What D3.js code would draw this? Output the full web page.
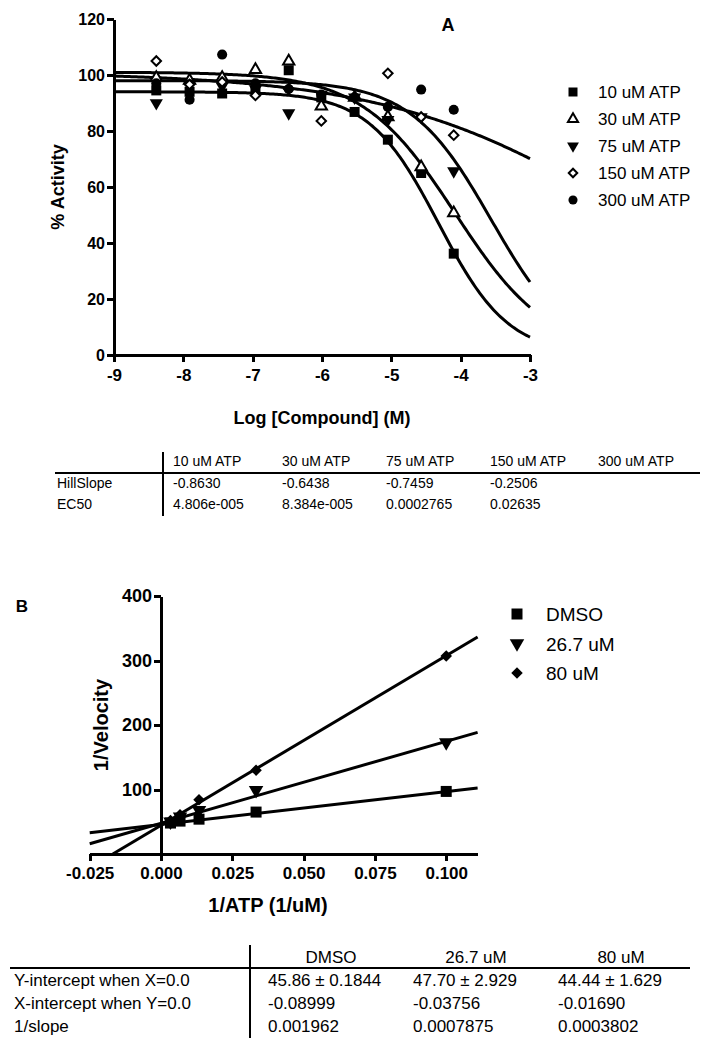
<!DOCTYPE html>
<html>
<head>
<meta charset="utf-8">
<title>ATP competition</title>
<script src="https://d3js.org/d3.v7.min.js"></script>
<style>
body { margin: 0; background: #fff; }
svg { display: block; font-family: "Liberation Sans", Arial, sans-serif; }
.axis path, .axis line { stroke: #000; stroke-width: 3; shape-rendering: crispEdges; }
.axis text { font-weight: bold; fill: #000; }
.fit { fill: none; stroke: #000; stroke-width: 3; }
.tbl { font-family: "Liberation Sans Narrow", "Liberation Sans", Arial, sans-serif; }
</style>
</head>
<body>
<svg id="fig" width="717" height="1050"></svg>
<script>
// ---------- panel A data ----------
var logConc = [-8.39, -7.91, -7.44, -6.96, -6.48, -6.01, -5.53, -5.05, -4.57, -4.10];
var seriesA = ["10 uM ATP", "30 uM ATP", "75 uM ATP", "150 uM ATP", "300 uM ATP"];
var atp10  = [94.5, 94, 93.4, 95, 101.7, 92, 86.8, 76.9, 65, 36.2];
var atp30  = [99, 98, 99, 101.9, 104.9, 88.8, 92, 85, 67.1, 50.7];
var atp75  = [90, 97, 96, 95, 86.4, 93, 92, 84, 85, 65.7];
var atp150 = [105, 96.6, 97.5, 92.7, 95, 83.6, 92, 100.6, 85, 78.5];
var atp300 = [97, 91.2, 107.3, 97, 95, 93, 92, 88.6, 94.8, 87.6];
// fitted parameters (table), plus top / bottom
var hillSlope = [-0.8630, -0.6438, -0.7459, -0.2506];
var ec50 = [4.806e-5, 8.384e-5, 0.0002765, 0.02635];
var hillText = ["-0.8630", "-0.6438", "-0.7459", "-0.2506", ""];
var ec50Text = ["4.806e-005", "8.384e-005", "0.0002765", "0.02635", ""];
var fitTop = [94, 101, 98, 101];
var fitBottom = [0, 0, -1.5, 0];
var xTicksA = [-9, -8, -7, -6, -5, -4, -3];
var yTicksA = [0, 20, 40, 60, 80, 100, 120];

// ---------- panel B data ----------
var invATP = [0.00333, 0.00667, 0.01333, 0.03333, 0.1];
var seriesB = ["DMSO", "26.7 uM", "80 uM"];
var dmso = [48, 51, 54, 65, 97];
var inh26 = [50, 58, 68, 99, 173];
var inh80 = [52, 61, 84, 130, 307];
var yIntercept = [45.86, 47.70, 44.44];
var oneOverSlope = [0.001962, 0.0007875, 0.0003802];
var yIntText = ["45.86 \u00b1 0.1844", "47.70 \u00b1 2.929", "44.44 \u00b1 1.629"];
var xIntText = ["-0.08999", "-0.03756", "-0.01690"];
var slopeText = ["0.001962", "0.0007875", "0.0003802"];
var xTicksB = [-0.025, 0, 0.025, 0.05, 0.075, 0.1];
var yTicksB = [100, 200, 300, 400];

var svg = d3.select("#fig");

// marker drawing helper
function marker(g, kind, x, y, s) {
  var p;
  if (kind == "square") p = g.append("path").attr("d", d3.symbol(d3.symbolSquare, s * s));
  if (kind == "tri") p = g.append("path").attr("d", d3.symbol(d3.symbolTriangle, s * s * 0.55)).attr("fill", "#fff").attr("stroke", "#000").attr("stroke-width", 2);
  if (kind == "down") p = g.append("path").attr("d", d3.symbol(d3.symbolTriangle, s * s * 0.75));
  if (kind == "odiam") p = g.append("path").attr("d", d3.symbol(d3.symbolSquare, s * s * 0.45)).attr("fill", "#fff").attr("stroke", "#000").attr("stroke-width", 2);
  if (kind == "diam") p = g.append("path").attr("d", d3.symbol(d3.symbolSquare, s * s * 0.55));
  if (kind == "circle") p = g.append("path").attr("d", d3.symbol(d3.symbolCircle, s * s * 0.8));
  var rot = kind == "down" ? 180 : (kind == "odiam" || kind == "diam") ? 45 : 0;
  p.attr("transform", "translate(" + x + "," + y + ") rotate(" + rot + ")");
  if (!p.attr("fill")) p.attr("fill", "#000");
}

/******** PANEL A ********/
var xA = d3.scaleLinear().domain([-9, -3]).range([114, 530]);
var yA = d3.scaleLinear().domain([0, 120]).range([355, 19]);
var gA = svg.append("g");

gA.append("g").attr("class", "axis").attr("transform", "translate(0,355)")
  .call(d3.axisBottom(xA).tickValues(xTicksA).tickFormat(function(d) { return String(d); })
    .tickSize(7).tickPadding(7).tickSizeOuter(0))
  .selectAll("text").style("font-size", "17px");
gA.append("g").attr("class", "axis").attr("transform", "translate(114,0)")
  .call(d3.axisLeft(yA).tickValues(yTicksA).tickSize(7).tickPadding(2).tickSizeOuter(0))
  .selectAll("text").style("font-size", "16px");

// fitted curves
var curveX = d3.range(0, 241).map(function(i) { return xA.domain()[0] + i * 6 / 240; });
hillSlope.forEach(function(h, k) {
  var le = Math.log10(ec50[k]);
  var line = d3.line()
    .x(function(d) { return xA(d); })
    .y(function(d) { return yA(fitBottom[k] + (fitTop[k] - fitBottom[k]) / (1 + Math.pow(10, (le - d) * h))); });
  gA.append("path").attr("class", "fit").attr("d", line(curveX));
});

var dataA = [atp10, atp30, atp75, atp150, atp300];
var kindsA = ["square", "tri", "down", "odiam", "circle"];
dataA.forEach(function(vals, k) {
  vals.forEach(function(v, i) { marker(gA, kindsA[k], xA(logConc[i]), yA(v), 10); });
});

gA.append("text").attr("x", 448).attr("y", 31).attr("text-anchor", "middle")
  .attr("font-weight", "bold").attr("font-size", 18).text("A");
gA.append("text").attr("transform", "translate(64,187) rotate(-90)").attr("text-anchor", "middle")
  .attr("font-weight", "bold").attr("font-size", 18).text("% Activity");
gA.append("text").attr("x", 322).attr("y", 424).attr("text-anchor", "middle")
  .attr("font-weight", "bold").attr("font-size", 18).text("Log [Compound] (M)");

seriesA.forEach(function(s, k) {
  var y = 92 + k * 27;
  marker(gA, kindsA[k], 573, y, 9);
  gA.append("text").attr("x", 598).attr("y", y + 6).attr("font-size", 17).text(s);
});

// table A
var tA = svg.append("g").attr("class", "tbl").attr("font-size", 14);
var colA = [173, 282, 386, 490, 598];
tA.append("line").attr("x1", 55).attr("x2", 700).attr("y1", 473).attr("y2", 473).attr("stroke", "#000").attr("stroke-width", 2);
tA.append("line").attr("x1", 163).attr("x2", 163).attr("y1", 452).attr("y2", 516).attr("stroke", "#000").attr("stroke-width", 2);
seriesA.forEach(function(s, k) {
  tA.append("text").attr("x", colA[k]).attr("y", 466).text(s);
  tA.append("text").attr("x", colA[k]).attr("y", 488).text(hillText[k]);
  tA.append("text").attr("x", colA[k]).attr("y", 509).text(ec50Text[k]);
});
tA.append("text").attr("x", 57).attr("y", 488).text("HillSlope");
tA.append("text").attr("x", 57).attr("y", 509).text("EC50");

/******** PANEL B ********/
var xB = d3.scaleLinear().domain([-0.025, 0.111]).range([89.7, 477.6]);
var yB = d3.scaleLinear().domain([0, 400]).range([854, 596]);
var gB = svg.append("g");

gB.append("g").attr("class", "axis").attr("transform", "translate(0,854)")
  .call(d3.axisBottom(xB).tickValues(xTicksB).tickFormat(function(d) { return d.toFixed(3); })
    .tickSize(7).tickPadding(6).tickSizeOuter(0))
  .selectAll("text").style("font-size", "17px");
gB.append("g").attr("class", "axis").attr("transform", "translate(" + xB(0) + ",0)")
  .call(d3.axisLeft(yB).tickValues(yTicksB).tickSize(7).tickPadding(2).tickSizeOuter(0))
  .selectAll("text").style("font-size", "18px");

yIntercept.forEach(function(b, k) {
  var m = 1 / oneOverSlope[k];
  var x0 = Math.max(xB.domain()[0], -b / m);
  var line = d3.line().x(function(d) { return xB(d); }).y(function(d) { return yB(b + m * d); });
  gB.append("path").attr("class", "fit").attr("d", line([x0, xB.domain()[1]]));
});

var dataB = [dmso, inh26, inh80];
var kindsB = ["square", "down", "diam"];
dataB.forEach(function(vals, k) {
  vals.forEach(function(v, i) { marker(gB, kindsB[k], xB(invATP[i]), yB(v), 11); });
});

gB.append("text").attr("x", 22).attr("y", 612).attr("text-anchor", "middle")
  .attr("font-weight", "bold").attr("font-size", 17).text("B");
gB.append("text").attr("transform", "translate(108,725) rotate(-90)").attr("text-anchor", "middle")
  .attr("font-weight", "bold").attr("font-size", 20).text("1/Velocity");
gB.append("text").attr("x", 268).attr("y", 912).attr("text-anchor", "middle")
  .attr("font-weight", "bold").attr("font-size", 20).text("1/ATP (1/uM)");

seriesB.forEach(function(s, k) {
  var y = 614 + k * 29.5;
  marker(gB, kindsB[k], 517, y, 11);
  gB.append("text").attr("x", 546).attr("y", y + 7).attr("font-size", 19).text(s);
});

// table B
var tB = svg.append("g").attr("class", "tbl").attr("font-size", 17);
var colB = [268, 413, 558];
var headB = [331, 476, 621];
tB.append("line").attr("x1", 10).attr("x2", 690).attr("y1", 968).attr("y2", 968).attr("stroke", "#000").attr("stroke-width", 2);
tB.append("line").attr("x1", 250).attr("x2", 250).attr("y1", 945).attr("y2", 1038).attr("stroke", "#000").attr("stroke-width", 2);
seriesB.forEach(function(s, k) {
  tB.append("text").attr("x", headB[k]).attr("y", 963).attr("text-anchor", "middle").text(s);
  tB.append("text").attr("x", colB[k]).attr("y", 986).text(yIntText[k]);
  tB.append("text").attr("x", colB[k]).attr("y", 1009).text(xIntText[k]);
  tB.append("text").attr("x", colB[k]).attr("y", 1032).text(slopeText[k]);
});
tB.append("text").attr("x", 14).attr("y", 986).text("Y-intercept when X=0.0");
tB.append("text").attr("x", 14).attr("y", 1009).text("X-intercept when Y=0.0");
tB.append("text").attr("x", 14).attr("y", 1032).text("1/slope");
</script>
</body>
</html>
